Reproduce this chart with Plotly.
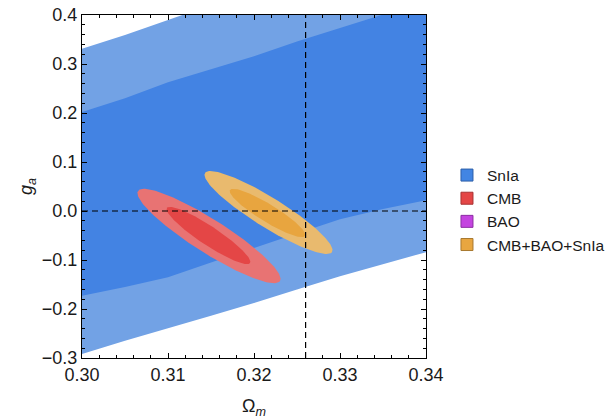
import numpy as np
import plotly.graph_objects as go

# ---- data ----
omega_grid = [0.300, 0.305, 0.310, 0.315, 0.320, 0.325, 0.330, 0.335, 0.340]
sn_light_upper = [0.331, 0.359, 0.390, 0.420, 0.450, 0.480, 0.510, 0.540, 0.570]
sn_dark_upper = [0.202, 0.230, 0.263, 0.290, 0.316, 0.346, 0.373, 0.401, 0.430]
sn_dark_lower = [-0.173, -0.155, -0.135, -0.105, -0.075, -0.046, -0.017, 0.004, 0.022]
sn_light_lower = [-0.292, -0.265, -0.239, -0.214, -0.188, -0.160, -0.133, -0.108, -0.084]

# ellipses: two ends of the major axis (Omega_m, g_a) and minor/major ratio
cmb_outer_tips = [(0.30651, 0.0408), (0.32302, -0.1429)]
cmb_inner_tips = [(0.30988, 0.0061), (0.31953, -0.1061)]
cmb_ratio = [0.20, 0.19]
all_outer_tips = [(0.31430, 0.0776), (0.32907, -0.0837)]
all_inner_tips = [(0.31721, 0.0429), (0.32593, -0.0510)]
all_ratio = [0.20, 0.20]

ref_omega = 0.326
ref_ga = 0.0

x_range = [0.30, 0.34]
y_range = [-0.3, 0.4]
x_ticks = [0.30, 0.31, 0.32, 0.33, 0.34]
x_ticklabels = ["0.30", "0.31", "0.32", "0.33", "0.34"]
y_ticks = [-0.3, -0.2, -0.1, 0.0, 0.1, 0.2, 0.3, 0.4]
y_ticklabels = ["\u22120.3", "\u22120.2", "\u22120.1", "0.0", "0.1", "0.2", "0.3", "0.4"]

legend_names = ["SnIa", "CMB", "BAO", "CMB+BAO+SnIa"]
legend_colors = ["#4285e3", "#e44646", "#c444e0", "#e8a640"]
legend_borders = ["#2d5fa8", "#a83232", "#8c2ea3", "#a8782e"]

# colours of the filled regions
c_sn_light = "#72a2e5"
c_sn_dark = "#4383e3"
c_cmb_outer = "#e87373"
c_cmb_inner = "#e44646"
c_all_outer = "#e9ba6e"
c_all_inner = "#e8a53f"


def ellipse(tips, ratio, n=160):
    # work in axis-normalised coordinates (plot area is square)
    sx = x_range[1] - x_range[0]
    sy = y_range[1] - y_range[0]
    (x1, y1), (x2, y2) = tips
    u1, v1 = (x1 - x_range[0]) / sx, (y1 - y_range[0]) / sy
    u2, v2 = (x2 - x_range[0]) / sx, (y2 - y_range[0]) / sy
    cu, cv = (u1 + u2) / 2, (v1 + v2) / 2
    a = np.hypot(u2 - u1, v2 - v1) / 2
    b = a * ratio
    th = np.arctan2(v2 - v1, u2 - u1)
    t = np.linspace(0, 2 * np.pi, n)
    uu = cu + a * np.cos(t) * np.cos(th) - b * np.sin(t) * np.sin(th)
    vv = cv + a * np.cos(t) * np.sin(th) + b * np.sin(t) * np.cos(th)
    return x_range[0] + uu * sx, y_range[0] + vv * sy


def band(xs, upper, lower):
    return list(xs) + list(xs[::-1]), list(upper) + list(lower[::-1])


fig = go.Figure()

bx, by = band(omega_grid, sn_light_upper, sn_light_lower)
fig.add_trace(go.Scatter(x=bx, y=by, fill="toself", fillcolor=c_sn_light,
                         line=dict(width=0), mode="lines", showlegend=False,
                         hoverinfo="skip"))
bx, by = band(omega_grid, sn_dark_upper, sn_dark_lower)
fig.add_trace(go.Scatter(x=bx, y=by, fill="toself", fillcolor=c_sn_dark,
                         line=dict(width=0), mode="lines", showlegend=False,
                         hoverinfo="skip"))

for tips, ratio, col in [
    (cmb_outer_tips, cmb_ratio[0], c_cmb_outer),
    (cmb_inner_tips, cmb_ratio[1], c_cmb_inner),
    (all_outer_tips, all_ratio[0], c_all_outer),
    (all_inner_tips, all_ratio[1], c_all_inner),
]:
    ex, ey = ellipse(tips, ratio)
    fig.add_trace(go.Scatter(x=ex, y=ey, fill="toself", fillcolor=col,
                             line=dict(width=0), mode="lines",
                             showlegend=False, hoverinfo="skip"))

# reference dashed lines
fig.add_trace(go.Scatter(x=x_range, y=[ref_ga, ref_ga], mode="lines",
                         line=dict(color="black", width=1.2, dash="6px,4px"),
                         showlegend=False, hoverinfo="skip"))
fig.add_trace(go.Scatter(x=[ref_omega, ref_omega], y=y_range, mode="lines",
                         line=dict(color="black", width=1.2, dash="6px,4px"),
                         showlegend=False, hoverinfo="skip"))

# legend entries
for name, col, bcol in zip(legend_names, legend_colors, legend_borders):
    fig.add_trace(go.Scatter(x=[None], y=[None], mode="markers", name=name,
                             marker=dict(symbol="square", size=12, color=col,
                                         line=dict(color=bcol, width=1))))

font_family = "Liberation Sans, Arial, sans-serif"
axis_common = dict(
    showgrid=False, zeroline=False, showline=True, linecolor="black",
    linewidth=1.3, mirror="allticks", ticks="inside", ticklen=5,
    tickwidth=1, tickcolor="black", automargin=False,
    tickfont=dict(family=font_family, size=18, color="#1a1a1a"),
)

fig.update_layout(
    width=616, height=419,
    margin=dict(l=82, r=190, t=15, b=61, autoexpand=False),
    paper_bgcolor="white", plot_bgcolor="white",
    xaxis=dict(range=x_range, tickvals=x_ticks, ticktext=x_ticklabels,
               minor=dict(dtick=0.002, ticks="inside", ticklen=3,
                          tickcolor="black"),
               title=dict(text="\u03a9<sub><i>m</i></sub>",
                          font=dict(family=font_family, size=18,
                                    color="#1a1a1a"),
                          standoff=21),
               **axis_common),
    yaxis=dict(range=y_range, tickvals=y_ticks, ticktext=y_ticklabels,
               minor=dict(dtick=0.02, ticks="inside", ticklen=3,
                          tickcolor="black"),
               title=dict(text="<i>g</i><sub><i>a</i></sub>",
                          font=dict(family=font_family, size=18,
                                    color="#1a1a1a"),
                          standoff=4),
               **axis_common),
    legend=dict(x=1.061, xanchor="left", y=0.4315, yanchor="middle",
                font=dict(family=font_family, size=15.5, color="#1a1a1a"),
                bgcolor="rgba(0,0,0,0)"),
)

fig.write_html("out.html")
